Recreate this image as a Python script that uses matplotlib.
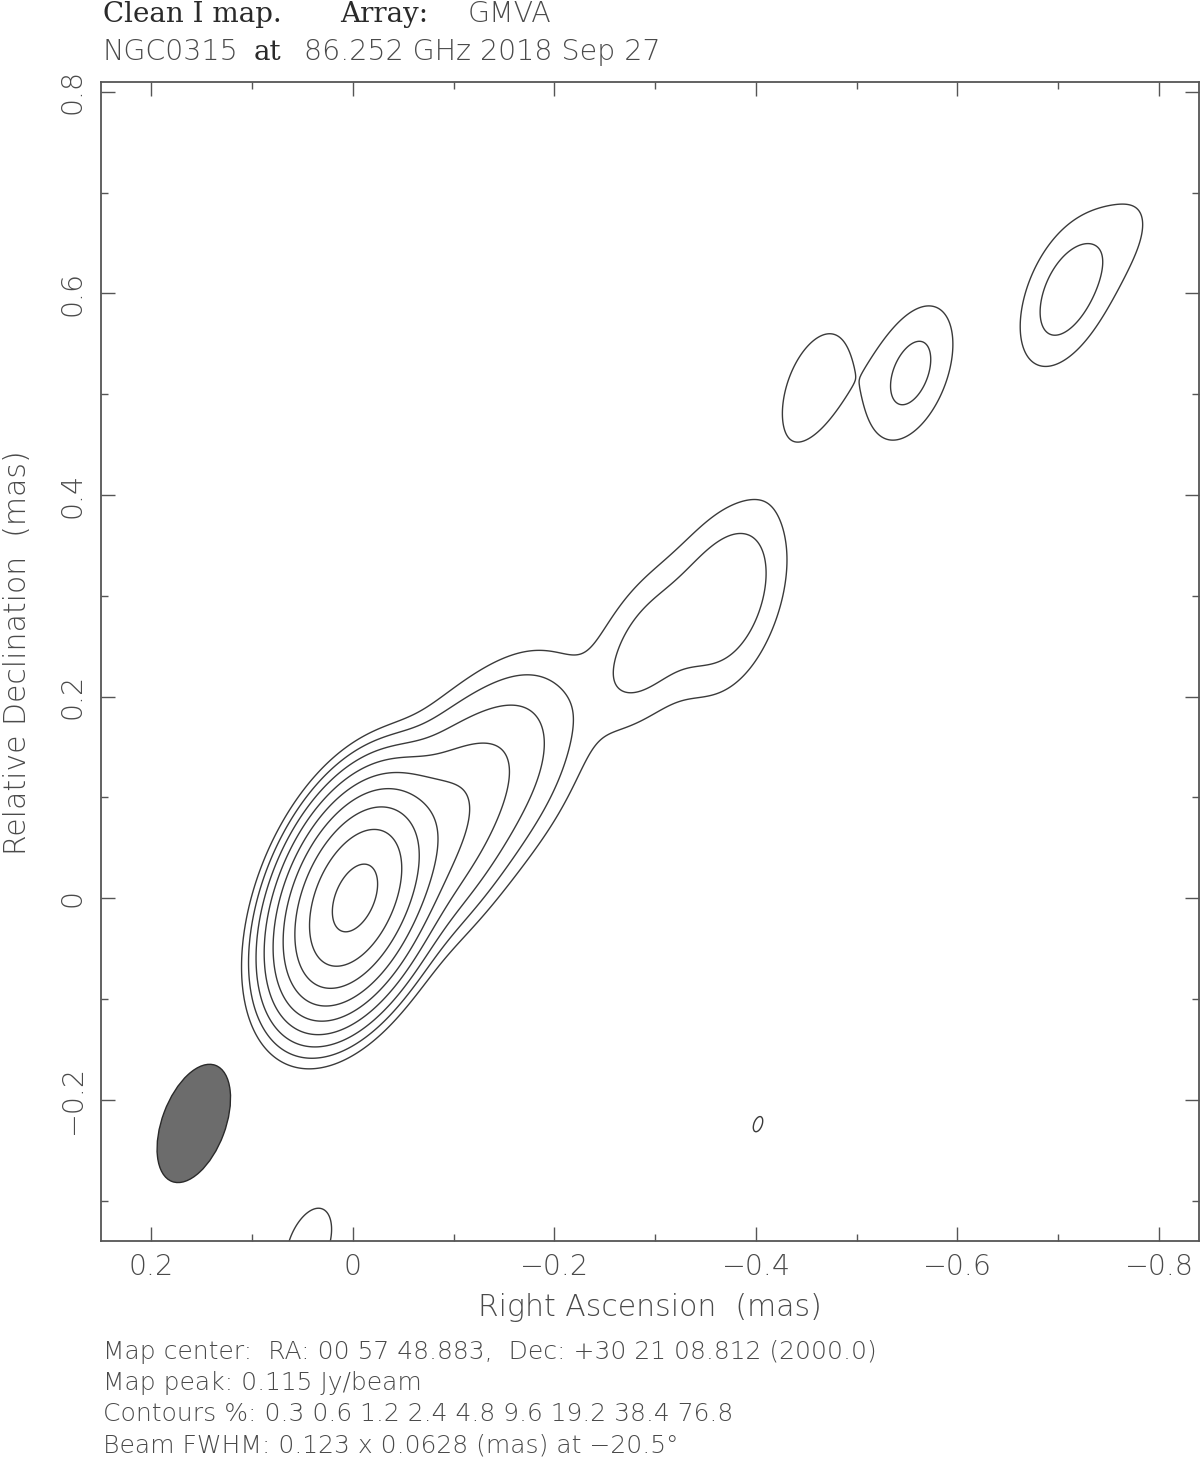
import numpy as np
import matplotlib
matplotlib.use("Agg")
import matplotlib.pyplot as plt
from matplotlib.patches import Ellipse

# ---------------- map metadata ----------------
map_peak = 0.115                      # Jy/beam
contour_pct = [0.3, 0.6, 1.2, 2.4, 4.8, 9.6, 19.2, 38.4, 76.8]
beam_major = 0.123                    # mas
beam_minor = 0.0628                   # mas
beam_pa = -20.5                       # deg

# ---------------- model components (read from the map) ----------------
# peak brightness of each restored component (Jy/beam), position (mas), intrinsic size (mas)
comp_ra   = [-0.0015, -0.080, -0.140, -0.288, -0.370, -0.375, -0.458, -0.554, -0.708, -0.775, 0.044, -0.402]
comp_dec  = [ 0.000,   0.060,  0.125,  0.246,  0.305,  0.240,  0.508,  0.521,  0.600,  0.665, -0.344, -0.224]
comp_peak = [ 0.110,   0.0055, 0.0022, 0.00084, 0.0011, 0.00018, 0.00056, 0.00084, 0.00095, 0.0003, 0.000452, 0.000349]
comp_maj  = [ 0.027,   0.060,  0.110,  0.040,  0.070,  0.030,  0.040,  0.000,  0.030,  0.040, 0.0, 0.0]
comp_min  = [ 0.000,   0.040,  0.060,  0.025,  0.050,  0.000,  0.000,  0.000,  0.000,  0.020, 0.0, 0.0]
comp_pa   = [ 90.0,   -45.0,  -45.0,  -40.0,  -30.0,   90.0,  -20.0,   90.0,  -40.0,  -50.0, 0.0, 0.0]

xticks = [0.2, 0.0, -0.2, -0.4, -0.6, -0.8]
xtick_labels = ["0.2", "0", "\u22120.2", "\u22120.4", "\u22120.6", "\u22120.8"]
yticks = [-0.2, 0.0, 0.2, 0.4, 0.6, 0.8]
ytick_labels = ["\u22120.2", "0", "0.2", "0.4", "0.6", "0.8"]

title_line1 = [("Clean I map.", "serif", 103), ("Array:", "serif", 340), ("GMVA", "sans", 468)]
title_line2 = [("NGC0315", "sans", 103), ("at", "serif", 254), ("86.252 GHz 2018 Sep 27", "sans", 304)]
footer_lines = [
    "Map center:  RA: 00 57 48.883,  Dec: +30 21 08.812 (2000.0)",
    "Map peak: 0.115 Jy/beam",
    "Contours %: 0.3 0.6 1.2 2.4 4.8 9.6 19.2 38.4 76.8",
    "Beam FWHM: 0.123 x 0.0628 (mas) at \u221220.5\u00b0",
]

# ---------------- build the restored map ----------------
FW = 2.0 * np.sqrt(2.0 * np.log(2.0))


def gauss_cov(maj, mn, pa_deg):
    s1, s2 = maj / FW, mn / FW
    t = np.radians(pa_deg)
    u = np.array([np.sin(t), np.cos(t)])
    v = np.array([np.cos(t), -np.sin(t)])
    return s1 ** 2 * np.outer(u, u) + s2 ** 2 * np.outer(v, v)


beam_cov = gauss_cov(beam_major, beam_minor, beam_pa)
ra_grid = np.linspace(0.34, -0.92, 1100)
dec_grid = np.linspace(-0.46, 0.90, 1200)
RA, DEC = np.meshgrid(ra_grid, dec_grid)
Z = np.zeros_like(RA)
for x0, y0, p, a, b, pa in zip(comp_ra, comp_dec, comp_peak, comp_maj, comp_min, comp_pa):
    S = beam_cov + gauss_cov(a, b, pa)
    Si = np.linalg.inv(S)
    dx, dy = RA - x0, DEC - y0
    m2 = Si[0, 0] * dx * dx + 2 * Si[0, 1] * dx * dy + Si[1, 1] * dy * dy
    Z += p * np.exp(-0.5 * m2)

levels = [c / 100.0 * map_peak for c in contour_pct]

# ---------------- figure ----------------
W, H = 1200, 1460
fig = plt.figure(figsize=(W / 100, H / 100), dpi=100)
fig.patch.set_facecolor("white")

ax_l, ax_r, ax_t, ax_b = 100.7, 1199.0, 81.7, 1240.7
ax = fig.add_axes([ax_l / W, 1 - ax_b / H, (ax_r - ax_l) / W, (ax_b - ax_t) / H])

ax.contour(RA, DEC, Z, levels=levels, colors="#3a3a3a", linewidths=1.0)

ax.add_patch(Ellipse((0.158, -0.2233), width=beam_minor, height=beam_major,
                     angle=-beam_pa, facecolor="#6c6c6c", edgecolor="#2a2a2a", lw=1.0))

ax.set_xlim(0.2504, -0.8397)
ax.set_ylim(-0.3396, 0.8099)

SANS = ["DejaVu Sans"]
SERIF = ["DejaVu Serif"]
TXT = "#4a4a4a"
FS_TICK = 20.5
FS_LAB = 21.5
FS_TITLE = 20.5
FS_SERIF = 20
FS_FOOT = 18

ax.set_xticks(xticks)
ax.set_xticklabels(xtick_labels, fontsize=FS_TICK, color=TXT, family=SANS, fontweight="light")
ax.set_xticks(np.arange(-0.8, 0.25, 0.1), minor=True)
ax.set_yticks(yticks)
ax.set_yticklabels(ytick_labels, fontsize=FS_TICK, color=TXT, family=SANS, rotation=90,
                   va="center", fontweight="light")
ax.set_yticks(np.arange(-0.3, 0.85, 0.1), minor=True)
ax.tick_params(which="both", direction="in", top=True, right=True, color="#555555", width=1.0)
ax.tick_params(which="major", length=10)
ax.tick_params(which="minor", length=5)
ax.tick_params(axis="x", which="major", pad=8.5)
ax.tick_params(axis="y", which="major", pad=10)
for s in ax.spines.values():
    s.set_color("#555555")
    s.set_linewidth(1.3)

fig.text(650 / W, 1 - 1308 / H, "Right Ascension  (mas)", ha="center", va="center",
         fontsize=FS_LAB, color=TXT, family=SANS, fontweight="light")
fig.text(18 / W, 1 - 653 / H, "Relative Declination  (mas)", ha="center", va="center",
         rotation=90, fontsize=FS_LAB, color=TXT, family=SANS, fontweight="light")


def run_line(base_px, runs):
    for txt, kind, x in runs:
        if kind == "serif":
            fig.text(x / W, 1 - base_px / H, txt, ha="left", va="baseline",
                     fontsize=FS_SERIF, color="#2a2a2a", family=SERIF)
        else:
            fig.text(x / W, 1 - base_px / H, txt, ha="left", va="baseline",
                     fontsize=FS_TITLE, color=TXT, family=SANS, fontweight="light")


run_line(22.5, title_line1)
run_line(60, title_line2)

for i, line in enumerate(footer_lines):
    fig.text(103 / W, 1 - (1359 + 31 * i) / H, line, ha="left", va="baseline",
             fontsize=FS_FOOT, color=TXT, family=SANS, fontweight="light")

fig.savefig("out.png", dpi=100, facecolor="white")
